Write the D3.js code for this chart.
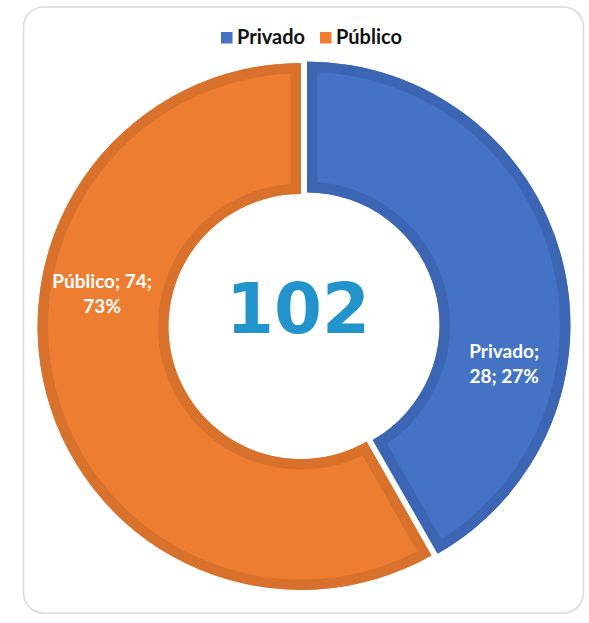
<!DOCTYPE html>
<html>
<head>
<meta charset="utf-8">
<script src="https://cdn.jsdelivr.net/npm/d3@7"></script>
<style>
  html, body { margin: 0; padding: 0; background: #fff; }
  svg { display: block; }
</style>
</head>
<body>
<div id="chart"></div>
<script>
// ---- data ----
const categories = ["Privado", "Público"];
const counts = [28, 74];
const percentLabels = ["27%", "73%"];
// slice sizes as they are drawn in the reference picture (share of the ring, %)
const sliceShares = [41.75, 58.25];
const fillColors = ["#4472C4", "#ED7D31"];
const borderColors = ["#3C66B3", "#D7712C"];

const total = d3.sum(counts);

// ---- layout ----
const W = 589, H = 623;
const cx = 301, cy = 326.5;
const rOuter = 263.5, rInner = 132.5;
const explode = [6.2, 0];
const band = 10.5;

const svg = d3.select("#chart").append("svg")
  .attr("width", W).attr("height", H);

// frame
svg.append("rect")
  .attr("x", 23.5).attr("y", 7).attr("width", 560).attr("height", 606)
  .attr("rx", 20).attr("ry", 20)
  .attr("fill", "#fff").attr("stroke", "#d9d9d9").attr("stroke-width", 1.5);

const data = categories.map((c, i) => ({
  name: c, count: counts[i], pct: percentLabels[i], share: sliceShares[i], i
}));

const pie = d3.pie().sort(null).value(d => d.share).startAngle(0).endAngle(2 * Math.PI);
const arcs = pie(data);
const arc = d3.arc().innerRadius(rInner).outerRadius(rOuter);

const defs = svg.append("defs");
const g = svg.append("g").attr("transform", `translate(${cx},${cy})`);

const offsets = arcs.map((a, k) => {
  const mid = (a.startAngle + a.endAngle) / 2;
  return [explode[k] * Math.sin(mid), -explode[k] * Math.cos(mid)];
});

arcs.forEach((a, k) => {
  const [dx, dy] = offsets[k];
  const path = arc(a);
  const clipId = "clip" + k;
  defs.append("clipPath").attr("id", clipId).append("path").attr("d", path);
  g.append("path")
    .attr("d", path)
    .attr("transform", `translate(${dx},${dy})`)
    .attr("fill", fillColors[k])
    .attr("stroke", borderColors[k])
    .attr("stroke-width", band * 2)
    .attr("stroke-linejoin", "miter")
    .attr("clip-path", `url(#${clipId})`);
});

// data labels (placed like the reference: polar angle in degrees, radius)
const labelPos = [{ ang: 101.2, r: 201 }, { ang: 279.3, r: 201.5 }];
const labelLines = [
  [data[0].name + ";", data[0].count + "; " + data[0].pct],
  [data[1].name + "; " + data[1].count + ";", data[1].pct]
];
data.forEach((d, k) => {
  const p = labelPos[k];
  const a = p.ang * Math.PI / 180;
  const x = offsets[k][0] + p.r * Math.sin(a);
  const y = offsets[k][1] - p.r * Math.cos(a);
  const t = g.append("text")
    .attr("text-anchor", "middle")
    .attr("font-family", "Lato, 'Open Sans', sans-serif")
    .attr("font-weight", "bold")
    .attr("font-size", 19)
    .attr("fill", "#fff");
  labelLines[k].forEach((line, j) => {
    t.append("tspan").attr("x", x).attr("y", y - 5.5 + j * 24.5).text(line);
  });
});

// total in the centre
svg.append("text")
  .attr("x", 298).attr("y", 332.5)
  .attr("text-anchor", "middle")
  .attr("font-family", "'DejaVu Sans', Verdana, sans-serif")
  .attr("font-weight", "bold")
  .attr("font-size", 69)
  .attr("fill", "#2293CB")
  .text(total);

// legend
const legendX = [221, 320];
data.forEach((d, k) => {
  svg.append("rect")
    .attr("x", legendX[k]).attr("y", 32).attr("width", 11.5).attr("height", 11.5)
    .attr("fill", fillColors[k]);
  svg.append("text")
    .attr("x", legendX[k] + 16).attr("y", 43.5)
    .attr("font-family", "Lato, 'Open Sans', sans-serif")
    .attr("font-weight", "bold")
    .attr("font-size", 20)
    .attr("fill", "#111")
    .text(d.name);
});
</script>
</body>
</html>
